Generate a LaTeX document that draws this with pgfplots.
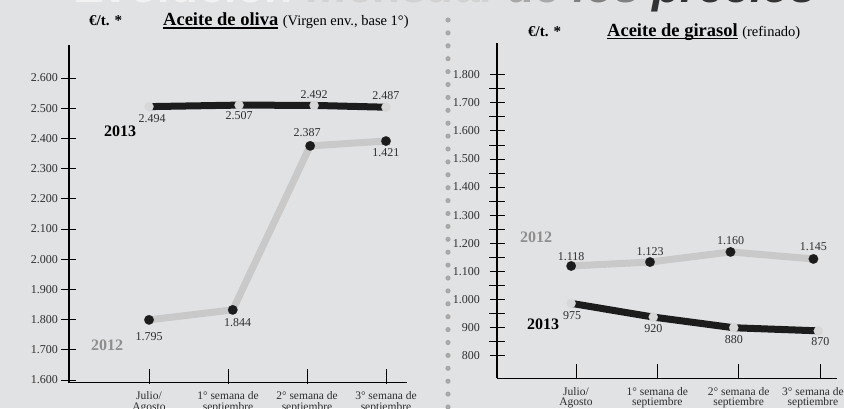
\documentclass[border=0pt]{standalone}
\usepackage{pgfplots}
\pgfplotsset{compat=1.18}
\usepackage{pgfplotstable}
\usepackage{fontspec}
\setmainfont{Liberation Serif}
\newfontfamily\headsans{Liberation Sans}
\definecolor{bg}{HTML}{E1E2E4}
\definecolor{lgray}{HTML}{C9C9C9}
\definecolor{mgray}{HTML}{D8D8D8}
\definecolor{dk}{HTML}{1C1C1C}
\definecolor{txt}{HTML}{2E2E2E}
\definecolor{yeargray}{HTML}{8E8E8E}
\definecolor{dotc}{HTML}{A8A8A8}
\newcommand\ul[1]{\setbox0\hbox{#1}\rlap{\rule[-2.6pt]{\wd0}{1.5pt}}\box0\relax}

% Aceite de oliva 2012 (grey line)
\pgfplotstableread{
x y lab dx dy
0 1799 1.795 0 -17
1.06 1832 1.844 5 -13
2.04 2375 2.387 -3 13
3 2391 1.421 0 -12
}\oliveA
% Aceite de oliva 2013 (black line)
\pgfplotstableread{
x y lab dx dy
0 2505 2.494 3 -12
1.14 2510 2.507 0 -10
2.09 2509 2.492 0 11
3 2503 2.487 0 12
}\oliveB
% Aceite de girasol 2012 (grey line)
\pgfplotstableread{
x y lab dx dy
-0.06 1119 1.118 0 9.5
0.91 1133 1.123 0 10
1.90 1169 1.160 0 11
2.92 1144 1.145 0 12
}\giraA
% Aceite de girasol 2013 (black line)
\pgfplotstableread{
x y lab dx dy
-0.06 986 975 1 -12
0.95 937 920 0 -11
1.94 899 880 0 -11.5
2.98 888 870 2 -11
}\giraB

\pgfplotsset{
  panel/.style={
    scale only axis, clip=false,
    axis x line=bottom, axis y line=left,
    axis line style={-, line width=1.1pt, black},
    tick align=center, major tick length=15pt, minor tick length=16pt,
    tick style={line width=0.8pt, black},
    xtick style={yshift=6.5pt},
    xtick={0,1,2,3},
    xticklabel style={align=center, font=\fontsize{11.5}{10.6}\selectfont, text=txt, yshift=2pt},
    yticklabel style={font=\fontsize{12}{13}\selectfont, text=txt},
    /pgf/number format/.cd, 1000 sep={.}, assume math mode=true,
  },
  lbl/.style={
    point meta=explicit symbolic,
    visualization depends on={\thisrow{dx} \as \dx},
    visualization depends on={\thisrow{dy} \as \dy},
    nodes near coords,
    every node near coord/.append style={anchor=center, xshift=\dx pt, yshift=\dy pt,
      font=\fontsize{12}{13}\selectfont, text=txt, inner sep=0pt},
  },
  greyline/.style={lbl, color=lgray, line width=7pt, line join=round,
    mark=*, mark size=4.8pt, mark options={fill=dk, draw=dk, line width=0.1pt}},
  blackline/.style={lbl, color=dk, line width=7pt, line join=round,
    mark=*, mark size=4.6pt, mark options={fill=mgray, draw=mgray, line width=0.1pt}},
}

\begin{document}
\begin{tikzpicture}[x=1pt,y=1pt]
\fill[bg] (0,0) rectangle (844,408);
\useasboundingbox (0,0) rectangle (844,408);
\clip (0,0) rectangle (844,408);

% big (cut-off) title
\node[anchor=base west, inner sep=0pt, font=\headsans\bfseries\itshape\fontsize{46}{46}\selectfont] at (75,405)
  {\textcolor[HTML]{F2F2F2}{Evolución} \textcolor[HTML]{D2D2D2}{mensual} \textcolor[HTML]{A8A8A8}{de} \textcolor[HTML]{808080}{los} \textcolor[HTML]{333333}{precios}};

% separator dots
\foreach \k in {0,...,30} \fill[dotc] (448,{408-20-12.9*\k}) circle (2.6);

% headers
\node[anchor=base west, inner sep=0pt, font=\fontsize{15}{15}\selectfont\bfseries] at (89,382) {€/t. *};
\node[anchor=base west, inner sep=0pt] at (163,382)
  {\fontsize{18.5}{20}\selectfont\bfseries\ul{Aceite de oliva} \fontsize{14.5}{16}\selectfont\mdseries(Virgen env., base 1°)};
\node[anchor=base west, inner sep=0pt, font=\fontsize{15}{15}\selectfont\bfseries] at (528,371.3) {€/t. *};
\node[anchor=base west, inner sep=0pt] at (607,371.3)
  {\fontsize{18.5}{20}\selectfont\bfseries\ul{Aceite de girasol} \fontsize{14.5}{16}\selectfont\mdseries(refinado)};

% left panel: aceite de oliva
\begin{axis}[panel, at={(69pt,25.3pt)}, anchor=south west,
  width=338pt, height=337.7pt,
  xmin=-1.013, xmax=3.266, ymin=1591, ymax=2709,
  ytick={1600,1700,...,2600},
  xticklabels={{Julio/\\Agosto},{1° semana de\\septiembre},{2° semana de\\septiembre},{3° semana de\\septiembre}}]
\addplot[greyline] table[x=x, y=y, meta=lab] {\oliveA};
\addplot[blackline] table[x=x, y=y, meta=lab] {\oliveB};
\end{axis}

% right panel: aceite de girasol
\begin{axis}[panel, at={(497pt,29.7pt)}, anchor=south west,
  width=340pt, height=335.3pt,
  xmin=-0.972, xmax=3.21, ymin=719, ymax=1913,
  ytick={800,900,...,1800}, minor y tick num=1,
  yticklabel style={xshift=-6pt},
  xticklabels={{Julio/\\Agosto},{1° semana de\\septiembre},{2° semana de\\septiembre},{\hspace*{-14pt}3° semana de\\\hspace*{-14pt}septiembre}}]
\addplot[greyline] table[x=x, y=y, meta=lab] {\giraA};
\addplot[blackline] table[x=x, y=y, meta=lab] {\giraB};
\end{axis}

% year labels
\node[font=\fontsize{16}{16}\selectfont\bfseries, text=black] at (120,276.3) {2013};
\node[font=\fontsize{16}{16}\selectfont\bfseries, text=yeargray] at (107,62.3) {2012};
\node[font=\fontsize{16}{16}\selectfont\bfseries, text=yeargray] at (536,170.7) {2012};
\node[font=\fontsize{16}{16}\selectfont\bfseries, text=black] at (543,84) {2013};
\end{tikzpicture}
\end{document}
